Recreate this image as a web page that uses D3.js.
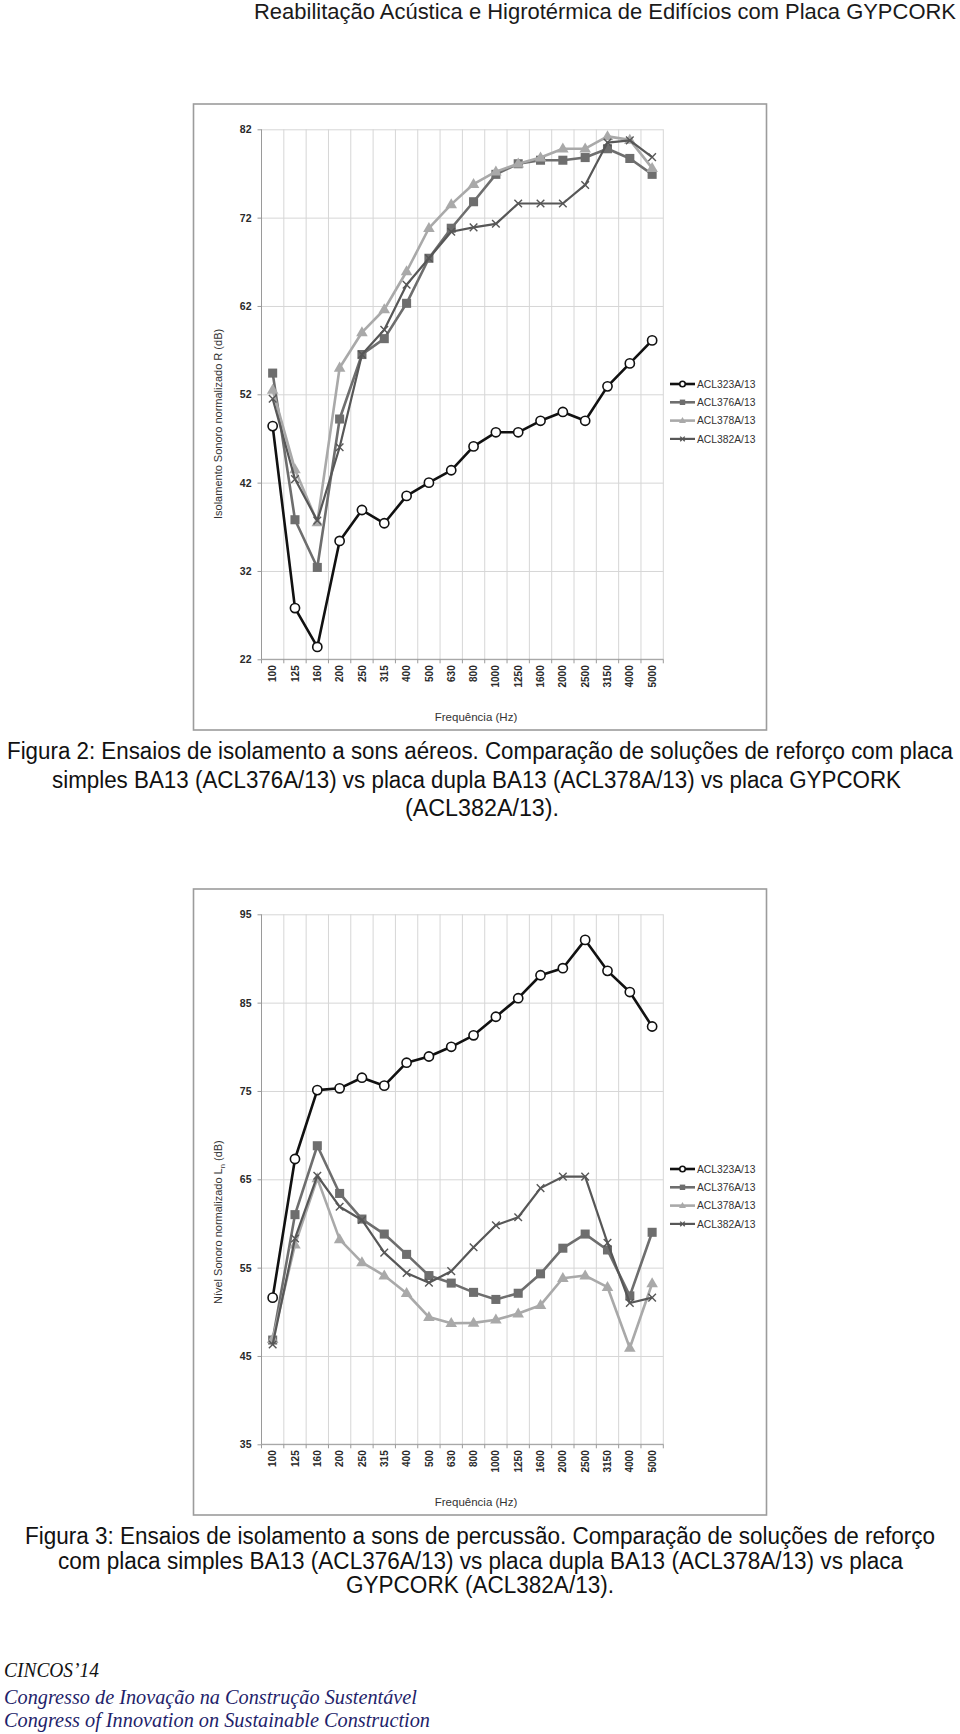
<!DOCTYPE html>
<html><head><meta charset="utf-8">
<script src="https://cdn.jsdelivr.net/npm/d3@7/dist/d3.min.js"></script>
<style>body{margin:0;background:#fff}svg{display:block}</style>
</head><body>
<script>
// ---------- data ----------
const categories = ["100","125","160","200","250","315","400","500","630","800","1000","1250","1600","2000","2500","3150","4000","5000"];
const seriesNames = ["ACL323A/13","ACL376A/13","ACL378A/13","ACL382A/13"];
const yTicksR = [22,32,42,52,62,72,82];
const yTicksLn = [35,45,55,65,75,85,95];

// Figura 2: Isolamento Sonoro normalizado R (dB)
const rACL323 = [48.4,27.8,23.4,35.4,38.9,37.4,40.5,42.0,43.4,46.1,47.7,47.7,49.0,50.0,49.0,52.9,55.5,58.1];
const rACL376 = [54.4,37.8,32.4,49.2,56.5,58.3,62.3,67.4,70.8,73.8,76.9,78.1,78.5,78.5,78.8,79.8,78.7,76.9];
const rACL378 = [52.5,43.5,37.5,55.0,59.0,61.6,65.9,70.8,73.5,75.8,77.2,78.1,78.8,79.8,79.8,81.2,80.8,77.6];
const rACL382 = [51.5,42.4,37.7,46.0,56.5,59.3,64.4,67.4,70.4,70.9,71.3,73.6,73.6,73.6,75.7,80.5,80.75,78.85];

// Figura 3: Nível Sonoro normalizado Ln (dB)
const lnACL323 = [51.6,67.3,75.1,75.3,76.5,75.6,78.2,78.9,80.0,81.3,83.4,85.5,88.1,88.9,92.1,88.6,86.2,82.3];
const lnACL376 = [46.8,61.0,68.8,63.4,60.5,58.8,56.5,54.1,53.25,52.2,51.4,52.1,54.3,57.2,58.8,57.0,51.8,59.0];
const lnACL378 = [46.9,57.6,65.1,58.2,55.6,54.1,52.1,49.4,48.7,48.75,49.1,49.8,50.75,53.8,54.1,52.8,45.9,53.2];
const lnACL382 = [46.3,58.3,65.4,61.9,60.4,56.7,54.4,53.3,54.6,57.3,59.8,60.7,64.0,65.3,65.3,57.8,51.0,51.6];

// ---------- styles ----------
const styles = [
  {color:"#111111", marker:"circle", width:2.6},
  {color:"#6e6e6e", marker:"square", width:2.6},
  {color:"#a9a9a9", marker:"triangle", width:2.6},
  {color:"#575757", marker:"x", width:2.2}
];

const W = 960, H = 1734;
const svg = d3.select("body").append("svg").attr("width", W).attr("height", H)
  .style("font-family", "Arial, 'Liberation Sans', Helvetica, sans-serif");
svg.append("rect").attr("width", W).attr("height", H).attr("fill", "#fff");

// header
svg.append("text").attr("x", 956).attr("y", 19).attr("text-anchor", "end")
  .attr("font-size", 22).attr("fill", "#1a1a1a")
  .attr("textLength", 702).attr("lengthAdjust", "spacingAndGlyphs")
  .text("Reabilitação Acústica e Higrotérmica de Edifícios com Placa GYPCORK");

function drawMarker(g, type, cx, cy, color, scale) {
  const s = scale || 1;
  if (type === "circle") {
    g.append("circle").attr("cx", cx).attr("cy", cy).attr("r", 4.6 * s)
      .attr("fill", "#fff").attr("stroke", color).attr("stroke-width", 1.6);
  } else if (type === "square") {
    g.append("path").attr("d", d3.symbol(d3.symbolSquare, 82 * s * s)())
      .attr("transform", `translate(${cx},${cy})`).attr("fill", color);
  } else if (type === "triangle") {
    g.append("path").attr("d", d3.symbol(d3.symbolTriangle, 58 * s * s)())
      .attr("transform", `translate(${cx},${cy + 0.5})`).attr("fill", color);
  } else {
    const r = 3.8 * s;
    g.append("path").attr("d", `M${cx - r},${cy - r}L${cx + r},${cy + r}M${cx - r},${cy + r}L${cx + r},${cy - r}`)
      .attr("stroke", color).attr("stroke-width", 1.4).attr("fill", "none");
  }
}

function drawChart(top, yTicks, seriesData, yTitleParts) {
  const frameX = 193.5, frameW = 573, frameH = 626;
  const g = svg.append("g");
  g.append("rect").attr("x", frameX).attr("y", top).attr("width", frameW).attr("height", frameH)
    .attr("fill", "#fff").attr("stroke", "#9c9c9c").attr("stroke-width", 1.6);

  const pl = 261.5, pr = 663.3, pt = top + 25.3, pb = top + 555.3;
  const x = d3.scaleBand().domain(categories).range([pl, pr]);
  const y = d3.scaleLinear().domain([yTicks[0], yTicks[yTicks.length - 1]]).range([pb, pt]);

  // horizontal gridlines
  g.append("g").attr("transform", `translate(${pl},0)`)
    .call(d3.axisLeft(y).tickValues(yTicks).tickSize(-(pr - pl)).tickFormat(""))
    .call(a => a.select(".domain").remove())
    .call(a => a.selectAll("line").attr("stroke", "#d6d6d6").attr("stroke-width", 1));

  // vertical gridlines at band boundaries
  const bounds = categories.map(c => x(c)).concat([x(categories[categories.length - 1]) + x.bandwidth()]);
  g.append("g").selectAll("line").data(bounds.slice(1)).join("line")
    .attr("x1", d => d).attr("x2", d => d).attr("y1", pt).attr("y2", pb)
    .attr("stroke", "#d6d6d6").attr("stroke-width", 1);

  // y axis
  const ya = g.append("g").attr("transform", `translate(${pl},0)`)
    .call(d3.axisLeft(y).tickValues(yTicks).tickSize(4).tickPadding(6));
  ya.select(".domain").attr("stroke", "#9a9a9a").attr("d", `M-0,${pt}V${pb}`);
  ya.selectAll(".tick line").attr("stroke", "#9a9a9a");
  ya.selectAll("text").attr("font-size", 10.5).attr("font-weight", "bold").attr("fill", "#2a2a2a")
    .attr("font-family", "Arial, 'Liberation Sans', sans-serif");

  // x axis
  const xa = g.append("g").attr("transform", `translate(0,${pb})`)
    .call(d3.axisBottom(x).tickSize(0).tickPadding(0));
  xa.select(".domain").attr("stroke", "#9a9a9a").attr("d", `M${pl},0H${pr}`);
  xa.selectAll("text").attr("font-size", 10).attr("font-weight", "bold").attr("fill", "#2a2a2a")
    .attr("font-family", "Arial, 'Liberation Sans', sans-serif")
    .attr("text-anchor", "end").attr("dy", null).attr("y", 0)
    .attr("transform", "translate(3.6,6) rotate(-90)");
  g.append("g").selectAll("line").data(bounds).join("line")
    .attr("x1", d => d).attr("x2", d => d).attr("y1", pb).attr("y2", pb + 4)
    .attr("stroke", "#9a9a9a");

  // axis titles
  g.append("text").attr("x", 476).attr("y", top + 617).attr("text-anchor", "middle")
    .attr("font-size", 11.5).attr("fill", "#333").text("Frequência (Hz)");
  const yt = g.append("text").attr("transform", `translate(222,${top + 415}) rotate(-90)`)
    .attr("text-anchor", "start").attr("font-size", 11).attr("fill", "#333");
  yTitleParts.forEach(p => {
    const t = yt.append("tspan").text(p.t);
    if (p.sub) t.attr("font-size", 7.5).attr("dy", 2.5);
    if (p.after) t.attr("dy", -2.5);
  });

  // series
  const line = d3.line().x((d, i) => x(categories[i]) + x.bandwidth() / 2).y(d => y(d));
  seriesData.forEach((vals, si) => {
    const st = styles[si];
    const sg = g.append("g");
    sg.append("path").datum(vals).attr("d", line).attr("fill", "none")
      .attr("stroke", st.color).attr("stroke-width", st.width).attr("stroke-linejoin", "round");
    vals.forEach((v, i) => drawMarker(sg, st.marker, x(categories[i]) + x.bandwidth() / 2, y(v), st.color, 1));
  });

  // legend
  const lg = g.append("g");
  seriesNames.forEach((name, i) => {
    const ly = top + 280 + i * 18.3;
    const st = styles[i];
    lg.append("line").attr("x1", 670).attr("x2", 695).attr("y1", ly).attr("y2", ly)
      .attr("stroke", st.color).attr("stroke-width", st.width);
    drawMarker(lg, st.marker, 682.5, ly, st.color, 0.6);
    lg.append("text").attr("x", 697).attr("y", ly + 3.6).attr("font-size", 10.3)
      .attr("fill", "#333").text(name);
  });
}

drawChart(104, yTicksR, [rACL323, rACL376, rACL378, rACL382],
  [{t:"Isolamento Sonoro normalizado R (dB)"}]);
drawChart(889, yTicksLn, [lnACL323, lnACL376, lnACL378, lnACL382],
  [{t:"Nível Sonoro normalizado L"}, {t:"n", sub:true}, {t:" (dB)", after:true}]);

// captions
function caption(lines) {
  lines.forEach(l => {
    svg.append("text").attr("x", (l.x0 + l.x1) / 2).attr("y", l.y).attr("text-anchor", "middle")
      .attr("font-size", 23).attr("fill", "#111")
      .attr("textLength", l.x1 - l.x0).attr("lengthAdjust", "spacingAndGlyphs").text(l.t);
  });
}
caption([
  {t:"Figura 2: Ensaios de isolamento a sons aéreos. Comparação de soluções de reforço com placa", x0:7, x1:953, y:759},
  {t:"simples BA13 (ACL376A/13) vs placa dupla BA13 (ACL378A/13) vs placa GYPCORK", x0:52, x1:901, y:788},
  {t:"(ACL382A/13).", x0:405, x1:559, y:816}
]);
caption([
  {t:"Figura 3: Ensaios de isolamento a sons de percussão. Comparação de soluções de reforço", x0:25, x1:935, y:1544},
  {t:"com placa simples BA13 (ACL376A/13) vs placa dupla BA13 (ACL378A/13) vs placa", x0:58, x1:903, y:1569},
  {t:"GYPCORK (ACL382A/13).", x0:346, x1:614, y:1593}
]);

// footer
const foot = [
  {t:"CINCOS’14", y:1677, w:95, c:"#111"},
  {t:"Congresso de Inovação na Construção Sustentável", y:1704, w:413, c:"#1f1f6b"},
  {t:"Congress of Innovation on Sustainable Construction", y:1727, w:426, c:"#1f1f6b"}
];
foot.forEach(f => {
  svg.append("text").attr("x", 4).attr("y", f.y).attr("font-size", 21)
    .attr("font-family", "'Liberation Serif', 'DejaVu Serif', serif").attr("font-style", "italic")
    .attr("fill", f.c).attr("textLength", f.w).attr("lengthAdjust", "spacingAndGlyphs").text(f.t);
});
</script>
</body></html>
